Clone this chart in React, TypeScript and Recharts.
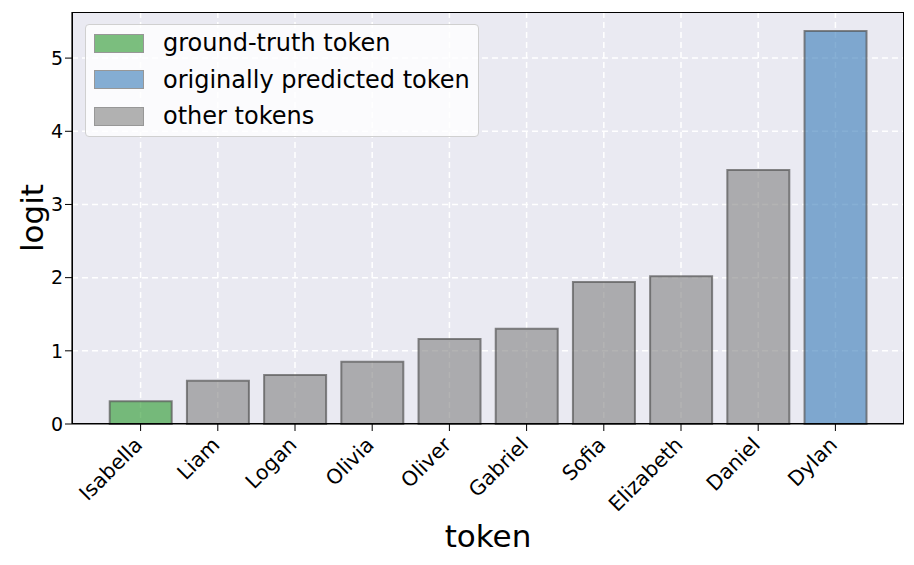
import { BarChart, Bar, Cell, XAxis, YAxis, CartesianGrid, Legend } from 'recharts'

const tokens = ['Isabella', 'Liam', 'Logan', 'Olivia', 'Oliver', 'Gabriel', 'Sofia', 'Elizabeth', 'Daniel', 'Dylan']
const logits = [0.31, 0.59, 0.67, 0.85, 1.16, 1.3, 1.94, 2.02, 3.47, 5.37]
const kinds = ['truth', 'other', 'other', 'other', 'other', 'other', 'other', 'other', 'other', 'predicted']
const yTicks = [0, 1, 2, 3, 4, 5]

const legendItems = [
  { kind: 'truth', label: 'ground-truth token' },
  { kind: 'predicted', label: 'originally predicted token' },
  { kind: 'other', label: 'other tokens' },
]

const colors: Record<string, string> = {
  truth: '#27972a',
  predicted: '#367ab8',
  other: '#808080',
}

const FONT = '"DejaVu Sans", sans-serif'

const data = tokens.map((t, i) => ({ token: t, logit: logits[i], kind: kinds[i] }))

// plot box, matches the chart margins below
const M = { top: 12, right: 10, left: 12, bottom: 0 }
const Y_AXIS_W = 60
const X_AXIS_H = 141

function XTick(props: any) {
  const { x, y, payload } = props
  const ax = x + 3
  const ay = y + 13
  return (
    <text
      x={ax}
      y={ay}
      textAnchor="end"
      transform={`rotate(-45, ${ax}, ${ay})`}
      fontFamily={FONT}
      fontSize={20.5}
      fill="#000"
    >
      {payload.value}
    </text>
  )
}

function LegendBox() {
  return (
    <div
      style={{
        background: 'rgba(255,255,255,0.8)',
        border: '1px solid #d0d0d0',
        borderRadius: 4,
        padding: '0 8px 1px 8px',
        fontFamily: FONT,
        fontSize: 24,
        color: '#000',
        boxSizing: 'border-box',
        width: 394,
      }}
    >
      {legendItems.map((it) => (
        <div key={it.kind} style={{ display: 'flex', alignItems: 'center', height: 36.5 }}>
          <div
            style={{
              width: 48,
              height: 17,
              background: colors[it.kind],
              opacity: 0.6,
              border: '1.5px solid #555',
              marginRight: 19,
            }}
          />
          <span style={{ whiteSpace: 'nowrap' }}>{it.label}</span>
        </div>
      ))}
    </div>
  )
}

export default function App() {
  const W = 914
  const H = 565
  return (
    <div style={{ position: 'absolute', left: 0, top: 0, width: W, height: H, background: '#fff' }}>
      <BarChart width={W} height={H} data={data} margin={M} barCategoryGap="10%">
        <CartesianGrid fill="#eaeaf2" stroke="#ffffff" strokeWidth={1.5} strokeDasharray="6 4" />
        <XAxis
          dataKey="token"
          height={X_AXIS_H}
          padding={{ left: 30, right: 30 }}
          tick={<XTick />}
          tickSize={7}
          tickLine={{ stroke: '#000' }}
          axisLine={{ stroke: '#000', strokeWidth: 1.2 }}
          interval={0}
          label={(p: any) => {
            const vb = p.viewBox
            return (
              <text x={vb.x + vb.width / 2} y={547} textAnchor="middle" fontFamily={FONT} fontSize={31} fill="#000">
                token
              </text>
            )
          }}
        />
        <YAxis
          width={Y_AXIS_W}
          domain={[0, 5.63]}
          ticks={yTicks}
          tickSize={7}
          tickLine={{ stroke: '#000' }}
          axisLine={{ stroke: '#000', strokeWidth: 1.2 }}
          tick={{ fontFamily: FONT, fontSize: 19, fill: '#000' }}
          label={(p: any) => {
            const vb = p.viewBox
            const cx = 43
            const cy = vb.y + vb.height / 2
            return (
              <text
                x={cx}
                y={cy}
                textAnchor="middle"
                transform={`rotate(-90, ${cx}, ${cy})`}
                fontFamily={FONT}
                fontSize={31}
                fill="#000"
              >
                logit
              </text>
            )
          }}
        />
        <Legend
          layout="vertical"
          align="center"
          verticalAlign="middle"
          wrapperStyle={{ left: 85, top: 24, width: 394 }}
          content={() => <LegendBox />}
        />
        <Bar dataKey="logit" isAnimationActive={false} stroke="#555" strokeWidth={2} strokeOpacity={0.7}>
          {data.map((d, i) => (
            <Cell key={`cell-${i}`} fill={colors[d.kind]} fillOpacity={0.6} />
          ))}
        </Bar>
      </BarChart>
      {/* axes frame (matplotlib spines) */}
      <div
        style={{
          position: 'absolute',
          left: M.left + Y_AXIS_W - 0.5,
          top: M.top - 0.5,
          width: W - M.left - M.right - Y_AXIS_W,
          height: H - M.top - M.bottom - X_AXIS_H,
          border: '1.2px solid #000',
          boxSizing: 'border-box',
          pointerEvents: 'none',
        }}
      />
    </div>
  )
}
